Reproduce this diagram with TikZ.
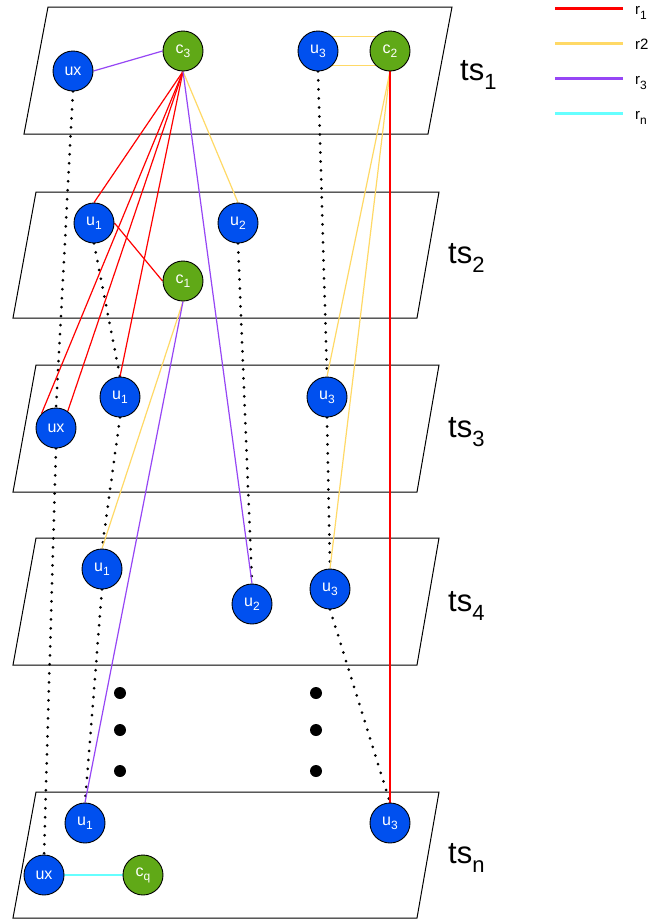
\documentclass[tikz,border=0pt]{standalone}
\usepackage{fontspec}
\setmainfont{Liberation Sans}
\definecolor{ublue}{HTML}{0050EF}
\definecolor{cgreen}{HTML}{60A917}
\definecolor{rred}{HTML}{FF0000}
\definecolor{ryel}{HTML}{FFD966}
\definecolor{rpur}{RGB}{150,70,245}
\definecolor{rcyan}{HTML}{66FFFF}
\newcommand\mysub[1]{\raisebox{-4pt}{\fontsize{12}{12}\selectfont #1}}
\newcommand\tssub[1]{\raisebox{-9pt}{\fontsize{22}{22}\selectfont #1}}
\newcommand\legsub[1]{\raisebox{-5pt}{\fontsize{12}{12}\selectfont #1}}
\pgfdeclarelayer{planes}
\pgfdeclarelayer{edges}
\pgfsetlayers{planes,edges,main}
\tikzset{
  plane/.style={draw=black, fill=white, line width=1pt},
  unode/.style={circle, draw=black, line width=0.9pt, fill=ublue, text=white, minimum size=40pt, inner sep=0pt, font=\fontsize{16}{16}\selectfont},
  cnode/.style={unode, fill=cgreen},
  dotline/.style={draw=black, line width=3pt, line cap=round, dash pattern=on 0pt off 9pt},
  edge/.style={line width=1.2pt},
  tslabel/.style={anchor=base west, inner sep=0pt, font=\fontsize{31}{31}\selectfont},
  leglabel/.style={anchor=base west, inner sep=0pt, font=\fontsize{15}{15}\selectfont},
  legline/.style={line width=3pt},
  bigdot/.style={fill=black}
}
\begin{document}
\begin{tikzpicture}[x=1pt, y=-1pt]
\useasboundingbox (0,0) rectangle (649,919);
% planes
\begin{pgfonlayer}{planes}
\draw[plane] (48,7) -- (452,7) -- (428,134) -- (24,134) -- cycle;
\draw[plane] (36,192) -- (439,192) -- (417,318) -- (13,318) -- cycle;
\draw[plane] (36,365) -- (439,365) -- (417,492) -- (13,492) -- cycle;
\draw[plane] (36,538) -- (439,538) -- (417,665) -- (13,665) -- cycle;
\draw[plane] (36,792) -- (439,792) -- (417,918) -- (13,918) -- cycle;
\end{pgfonlayer}
% labels
\node[tslabel] (ts1) at (460,80) {ts\tssub{1}};
\node[tslabel] (ts2) at (448,263) {ts\tssub{2}};
\node[tslabel] (ts3) at (448,437) {ts\tssub{3}};
\node[tslabel] (ts4) at (448,611) {ts\tssub{4}};
\node[tslabel] (tsn) at (448,863) {ts\tssub{n}};
% nodes ts1
\node[unode] (uxA) at (73,71) {ux};
\node[cnode] (cthree) at (183,51) {c\mysub{3}};
\node[unode] (uthreeA) at (318,51) {u\mysub{3}};
\node[cnode] (ctwo) at (390,51) {c\mysub{2}};
% ts2
\node[unode] (uoneB) at (94,223) {u\mysub{1}};
\node[unode] (utwoB) at (238,223) {u\mysub{2}};
\node[cnode] (coneB) at (183,281) {c\mysub{1}};
% ts3
\node[unode] (uoneC) at (120,397) {u\mysub{1}};
\node[unode] (uxC) at (56,428) {ux};
\node[unode] (uthreeC) at (327,397) {u\mysub{3}};
% ts4
\node[unode] (uoneD) at (102,569) {u\mysub{1}};
\node[unode] (utwoD) at (252,604) {u\mysub{2}};
\node[unode] (uthreeD) at (330,589) {u\mysub{3}};
% tsn
\node[unode] (uoneN) at (85,823) {u\mysub{1}};
\node[unode] (uthreeN) at (390,823) {u\mysub{3}};
\node[unode] (uxN) at (44,875) {ux};
\node[cnode] (cqN) at (143,875) {c\mysub{q}};
% ellipsis dots
\foreach \yy in {693,730,771} {
  \fill[bigdot] (120,\yy) circle (6);
  \fill[bigdot] (316,\yy) circle (6);
}
\begin{pgfonlayer}{edges}
% dotted identity lines
\draw[dotline] (uxA.south) -- (uxC.north);
\draw[dotline] (uxC.south) -- (uxN.north);
\draw[dotline] (uoneB.south) -- (uoneC.north);
\draw[dotline] (uoneC.south) -- (uoneD.north);
\draw[dotline] (uoneD.south) -- (uoneN.north);
\draw[dotline] (utwoB.south) -- (utwoD.north);
\draw[dotline] (uthreeA.south) -- (uthreeC.north);
\draw[dotline] (uthreeC.south) -- (uthreeD.north);
\draw[dotline] (uthreeD.south) -- (uthreeN.north);
% relation edges
\draw[edge, rpur] (cthree.west) -- (uxA.east);
\draw[edge, rred] (cthree.south) -- (uoneB.north);
\draw[edge, rred] (cthree.south) -- (uxC.135);
\draw[edge, rred] (cthree.south) -- (uxC.55);
\draw[edge, rred] (cthree.south) -- (uoneC.north);
\draw[edge, ryel] (cthree.south) -- (utwoB.north);
\draw[edge, rpur] (cthree.south) -- (utwoD.north);
\draw[edge, rred] (uoneB.east) -- (coneB.west);
\draw[edge, ryel] (coneB.south) -- (uoneD.north);
\draw[edge, rpur] (coneB.south) -- (uoneN.north);
\draw[edge, ryel] (uthreeA.45) -- (ctwo.135);
\draw[edge, ryel] (uthreeA.-45) -- (ctwo.-135);
\draw[edge, ryel] (ctwo.south) -- (uthreeC.north);
\draw[edge, ryel] (ctwo.south) -- (uthreeD.north);
\draw[edge, rred] (ctwo.south) -- (uthreeN.north);
\draw[edge, rcyan] (uxN.east) -- (cqN.west);
\end{pgfonlayer}
% legend
\coordinate (l1a) at (555,8);  \coordinate (l1b) at (623,8);
\coordinate (l2a) at (555,43); \coordinate (l2b) at (623,43);
\coordinate (l3a) at (555,78); \coordinate (l3b) at (623,78);
\coordinate (l4a) at (555,113); \coordinate (l4b) at (623,113);
\draw[legline, rred] (l1a) -- (l1b);
\draw[legline, ryel] (l2a) -- (l2b);
\draw[legline, rpur] (l3a) -- (l3b);
\draw[legline, rcyan] (l4a) -- (l4b);
\node[leglabel] (lr1) at (635,14) {r\legsub{1}};
\node[leglabel] (lr2) at (635,49) {r2};
\node[leglabel] (lr3) at (635,84) {r\legsub{3}};
\node[leglabel] (lrn) at (635,119) {r\legsub{n}};
\end{tikzpicture}
\end{document}
